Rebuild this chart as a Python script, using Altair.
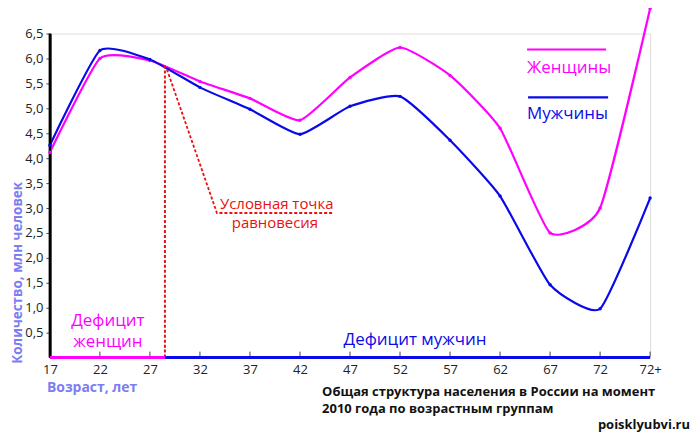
import altair as alt
import pandas as pd

# ---- data ----
age_labels = ["17", "22", "27", "32", "37", "42", "47", "52", "57", "62", "67", "72", "72+"]
women = [4.12, 6.0, 5.96, 5.54, 5.2, 4.76, 5.62, 6.22, 5.66, 4.6, 2.5, 3.0, 7.0]
men = [4.26, 6.16, 5.98, 5.42, 4.98, 4.48, 5.04, 5.24, 4.36, 3.24, 1.46, 0.98, 3.2]
y_ticks = [0.5, 1.0, 1.5, 2.0, 2.5, 3.0, 3.5, 4.0, 4.5, 5.0, 5.5, 6.0, 6.5]
balance_x = 2.3      # "Условная точка равновесия" (≈ 28.5 years)
balance_y = 5.88

MAGENTA = "#FF00FF"
BLUE = "#0A0AE8"
RED = "#E81010"
TITLE_C = "#7C7CF4"
FONT = "Open Sans"

rows = []
for i, lab in enumerate(age_labels):
    rows.append({"i": i, "age": lab, "v": women[i], "s": "Женщины"})
    rows.append({"i": i, "age": lab, "v": men[i], "s": "Мужчины"})
df = pd.DataFrame(rows)

labels_js = "[" + ",".join('"%s"' % a for a in age_labels) + "]"

xscale = alt.Scale(domain=[0, 12], nice=False, zero=False)
yscale = alt.Scale(domain=[0, 6.5], nice=False)

XAX = alt.Axis(values=list(range(13)), labelExpr=labels_js + "[datum.value]",
               domain=False, ticks=False, grid=False, labelPadding=6,
               labelOverlap=False, labelFlush=False, labelBound=False,
               labelFontSize=13, labelFont=FONT, labelColor="#222", title=None)
YAX = alt.Axis(values=y_ticks, labelExpr="replace(format(datum.value,'.1f'),'.',',')",
               domain=True, domainColor="#000000", domainWidth=2.5, domainOpacity=1,
               ticks=True, tickColor="#555555", tickSize=4, tickWidth=1,
               grid=False, labelPadding=3, labelOverlap=False,
               labelFlush=False, labelBound=False,
               labelFontSize=13, labelFont=FONT, labelColor="#222", title=None)


def X(f):
    return alt.X(f, scale=xscale, axis=XAX, title=None)


def Y(f):
    return alt.Y(f, scale=yscale, axis=YAX, title=None)


color = alt.Color("s:N", scale=alt.Scale(domain=["Женщины", "Мужчины"], range=[MAGENTA, BLUE]), legend=None)

base = alt.Chart(df)

lines = base.mark_line(interpolate="cardinal", tension=0.5, strokeWidth=2.2).encode(
    x=X("i:Q"), y=Y("v:Q"), color=color, detail="s:N")
pts = base.mark_circle(size=12, opacity=1).encode(x=X("i:Q"), y=Y("v:Q"), color=color)

# black y axis line (drawn as a data-space rule too)
yline_df = pd.DataFrame({"x": [0.0], "y0": [0.0], "y1": [6.5]})
yline = alt.Chart(yline_df).mark_rule(strokeWidth=2.5, color="black", opacity=1).encode(
    x=X("x:Q"), y=Y("y0:Q"), y2="y1:Q")

# coloured x axis line (women deficit / men deficit)
xseg_df = pd.DataFrame({"x0": [0, balance_x], "x1": [balance_x, 12], "y": [0, 0], "c": [MAGENTA, BLUE]})
xaxis = alt.Chart(xseg_df).mark_rule(strokeWidth=3).encode(
    x=X("x0:Q"), x2="x1:Q", y=Y("y:Q"), color=alt.Color("c:N", scale=None))

# inward x tick marks
xt_df = pd.DataFrame({"i": list(range(1, 13))})
xticks = alt.Chart(xt_df).mark_rule(strokeWidth=1).encode(
    x=X("i:Q"), y=alt.value(324), y2=alt.value(319), color=alt.value("#444"))

# red dotted balance lines
vline_df = pd.DataFrame({"x": [balance_x], "y0": [0], "y1": [balance_y]})
vline = alt.Chart(vline_df).mark_rule(color=RED, strokeWidth=2, strokeDash=[3, 2]).encode(
    x=X("x:Q"), y=Y("y0:Q"), y2="y1:Q")
slant_df = pd.DataFrame({"o": [0, 1, 2], "x": [balance_x + 0.04, 3.34, 5.66], "y": [balance_y - 0.1, 2.9, 2.9]})
slant = alt.Chart(slant_df).mark_line(color=RED, strokeWidth=1.8, strokeDash=[3, 2]).encode(
    x=X("x:Q"), y=Y("y:Q"), order="o:Q")

# annotations in data space
ann_rows = [
    {"x": 3.4, "y": 3.08, "t": "Условная точка", "c": RED, "a": "left", "fs": 15},
    {"x": 4.5, "y": 2.7, "t": "равновесия", "c": RED, "a": "center", "fs": 15},
    {"x": 1.16, "y": 0.74, "t": "Дефицит", "c": MAGENTA, "a": "center", "fs": 17},
    {"x": 1.16, "y": 0.32, "t": "женщин", "c": MAGENTA, "a": "center", "fs": 17},
    {"x": 7.3, "y": 0.36, "t": "Дефицит мужчин", "c": BLUE, "a": "center", "fs": 17},
    {"x": 9.54, "y": 5.8, "t": "Женщины", "c": MAGENTA, "a": "left", "fs": 17},
    {"x": 9.54, "y": 4.88, "t": "Мужчины", "c": BLUE, "a": "left", "fs": 17},
]
ann_layers = []
for r in ann_rows:
    ann_layers.append(
        alt.Chart(pd.DataFrame([r])).mark_text(
            align=r["a"], baseline="middle", font=FONT, fontSize=r["fs"], color=r["c"]
        ).encode(x=X("x:Q"), y=Y("y:Q"), text="t:N")
    )

leg_df = pd.DataFrame({"x0": [9.54, 9.56], "x1": [11.12, 11.16], "y": [6.18, 5.22], "c": [MAGENTA, BLUE]})
leg_lines = alt.Chart(leg_df).mark_rule(strokeWidth=2.2).encode(
    x=X("x0:Q"), x2="x1:Q", y=Y("y:Q"), color=alt.Color("c:N", scale=None))


# texts outside the plot area (pixel positioned)
def ptext(t, x, y, size, color, bold=True, align="left", angle=0):
    return alt.Chart(pd.DataFrame({"t": [t]})).mark_text(
        align=align, baseline="middle", font=FONT, fontSize=size, color=color,
        fontWeight="bold" if bold else "normal", angle=angle
    ).encode(x=alt.value(x), y=alt.value(y), text="t:N")


ytitle = ptext("Количество, млн человек", -32, 240, 13.5, TITLE_C, align="center", angle=270)
xtitle = ptext("Возраст, лет", -3, 355, 14, TITLE_C)
cap1 = ptext("Общая структура населения в России на момент", 273, 360, 13, "#111")
cap2 = ptext("2010 года по возрастным группам", 273, 377, 13, "#111")
wm = ptext("poisklyubvi.ru", 642, 393, 13, "#111", align="right")

chart = alt.layer(
    lines, xticks, vline, slant, yline, xaxis, pts, leg_lines,
    *ann_layers, ytitle, xtitle, cap1, cap2, wm
).properties(
    width=602, height=325,
    autosize=alt.AutoSizeParams(type="none"),
    padding={"left": 42, "top": 25, "right": 42, "bottom": 75},
).configure_view(stroke=None).configure(background="white")

chart.save("out.html", embed_options={"renderer": "svg", "actions": False})
